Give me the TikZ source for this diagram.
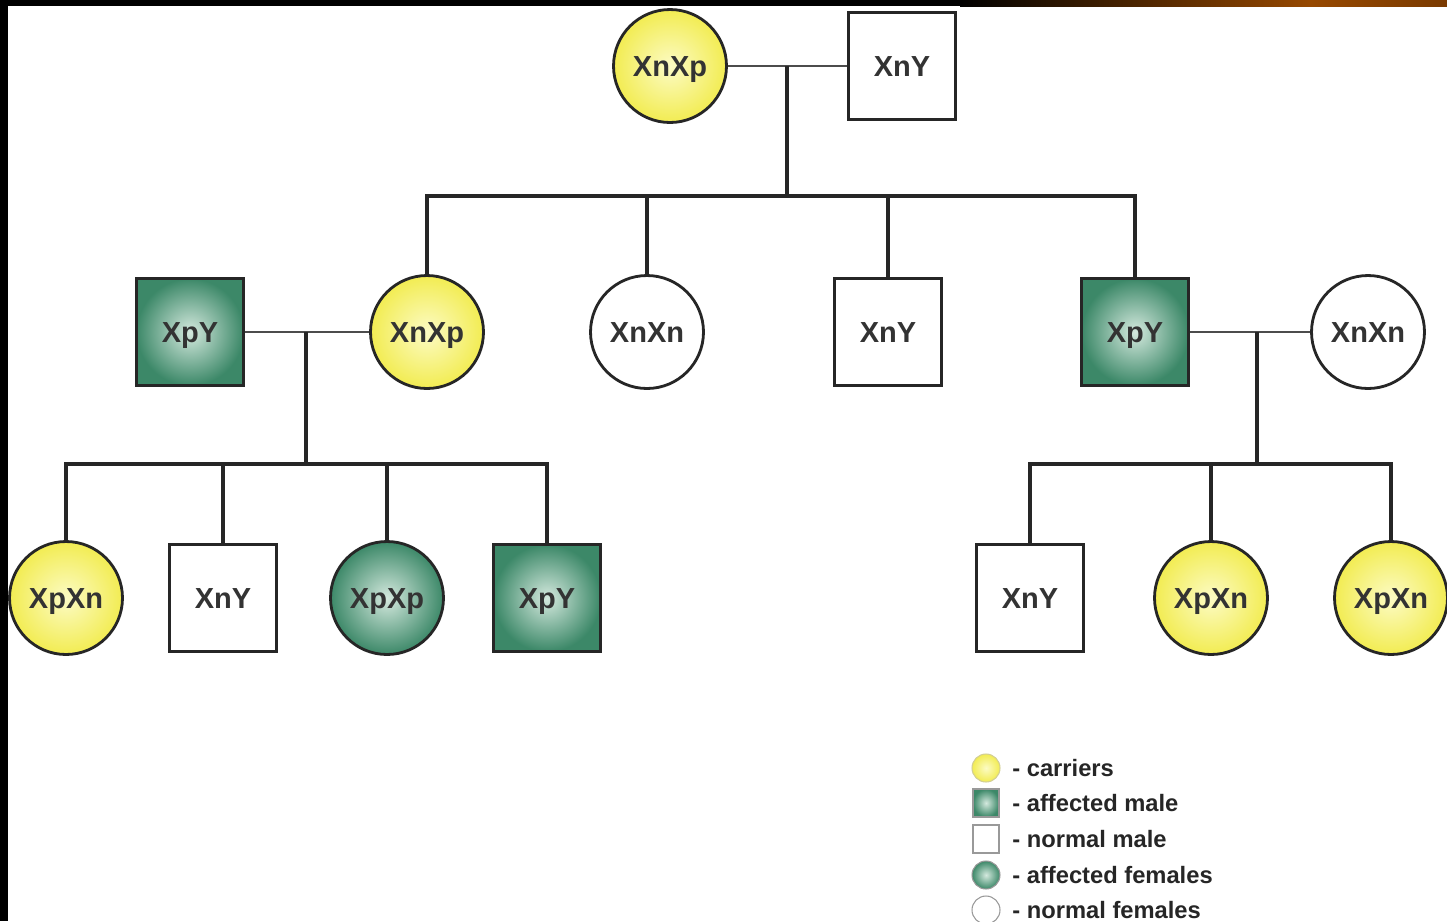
\documentclass[tikz,border=0pt]{standalone}
\usepackage{fontspec}
\setmainfont{Liberation Sans}
\definecolor{carrierOut}{RGB}{242,236,82}
\definecolor{carrierIn}{RGB}{252,251,196}
\definecolor{affOut}{RGB}{60,136,104}
\definecolor{affIn}{RGB}{212,233,222}
\definecolor{barOrange}{RGB}{150,72,0}
\definecolor{barDark}{RGB}{122,58,0}

\begin{document}
\begin{tikzpicture}[x=0.02cm,y=-0.02cm]
  \tikzstyle{person}=[draw=black!85,line width=1.6pt,inner sep=0pt,text=black!80,text height=12pt,text depth=0pt,font=\fontsize{16.5}{18}\selectfont\bfseries]
  \tikzstyle{female}=[person,circle,minimum size=2.26cm]
  \tikzstyle{male}=[person,rectangle,minimum size=2.14cm]
  \tikzstyle{carrier}=[shading=radial,inner color=carrierIn,outer color=carrierOut]
  \tikzstyle{affected}=[shading=radial,inner color=affIn,outer color=affOut]
  \tikzstyle{mate}=[line width=0.9pt,black!70]
  \tikzstyle{kin}=[line width=2pt,black!85]
  \tikzstyle{keybox}=[draw=black!40,line width=0.6pt,minimum width=0.52cm,minimum height=0.56cm,inner sep=0pt]
  \tikzstyle{keytext}=[anchor=west,inner sep=0pt,text=black!85,font=\fontsize{13.5}{15}\selectfont\bfseries]

  % frame
  \fill[white] (0,0) rectangle (1447,921);
  \fill[black] (0,0) rectangle (8,921);
  \fill[black] (0,0) rectangle (960,6);
  \shade[left color=black,right color=barOrange] (960,0) rectangle (1310,6);
  \shade[left color=barOrange,right color=barDark] (1310,0) rectangle (1447,6);
  \useasboundingbox (0,0) rectangle (1447,921);

  \node[female,carrier] (A_0) at (670,66) {XnXp};
  \node[male] (A_1) at (902,66) {XnY};

  \node[male,affected] (B_0) at (190,332) {XpY};
  \node[female,carrier] (B_1) at (427,332) {XnXp};
  \node[female] (B_2) at (647,332) {XnXn};
  \node[male] (B_3) at (888,332) {XnY};
  \node[male,affected] (B_4) at (1135,332) {XpY};
  \node[female] (B_5) at (1368,332) {XnXn};

  \node[female,carrier] (C_0) at (66,598) {XpXn};
  \node[male] (C_1) at (223,598) {XnY};
  \node[female,affected] (C_2) at (387,598) {XpXp};
  \node[male,affected] (C_3) at (547,598) {XpY};
  \node[male] (C_4) at (1030,598) {XnY};
  \node[female,carrier] (C_5) at (1211,598) {XpXn};
  \node[female,carrier] (C_6) at (1391,598) {XpXn};

  \coordinate (M_0) at (787,66);
  \coordinate (S_0) at (787,196);
  \coordinate (M_1) at (306,332);
  \coordinate (S_1) at (306,464);
  \coordinate (M_2) at (1257,332);
  \coordinate (S_2) at (1257,464);

  \draw[mate] (A_0) -- (A_1);
  \draw[kin] (M_0) -- (S_0);
  \draw[kin] (B_1) -- (B_1 |- S_0) -- (B_4 |- S_0) -- (B_4);
  \draw[kin] (B_2 |- S_0) -- (B_2);
  \draw[kin] (B_3 |- S_0) -- (B_3);

  \draw[mate] (B_0) -- (B_1);
  \draw[kin] (M_1) -- (S_1);
  \draw[kin] (C_0) -- (C_0 |- S_1) -- (C_3 |- S_1) -- (C_3);
  \draw[kin] (C_1 |- S_1) -- (C_1);
  \draw[kin] (C_2 |- S_1) -- (C_2);

  \draw[mate] (B_4) -- (B_5);
  \draw[kin] (M_2) -- (S_2);
  \draw[kin] (C_4) -- (C_4 |- S_2) -- (C_6 |- S_2) -- (C_6);
  \draw[kin] (C_5 |- S_2) -- (C_5);

  % key
  \node[keybox,circle,carrier,draw=yellow!60!black!50,minimum size=0.56cm] (L_0) at (986,768) {};
  \node[keybox,affected] (L_1) at (986,803) {};
  \node[keybox] (L_2) at (986,839) {};
  \node[keybox,circle,affected,minimum size=0.56cm] (L_3) at (986,875) {};
  \node[keybox,circle,minimum size=0.56cm] (L_4) at (986,910) {};
  \node[keytext] (T_0) at (1012,768) {- carriers};
  \node[keytext] (T_1) at (1012,803) {- affected male};
  \node[keytext] (T_2) at (1012,839) {- normal male};
  \node[keytext] (T_3) at (1012,875) {- affected females};
  \node[keytext] (T_4) at (1012,910) {- normal females};
\end{tikzpicture}
\end{document}
